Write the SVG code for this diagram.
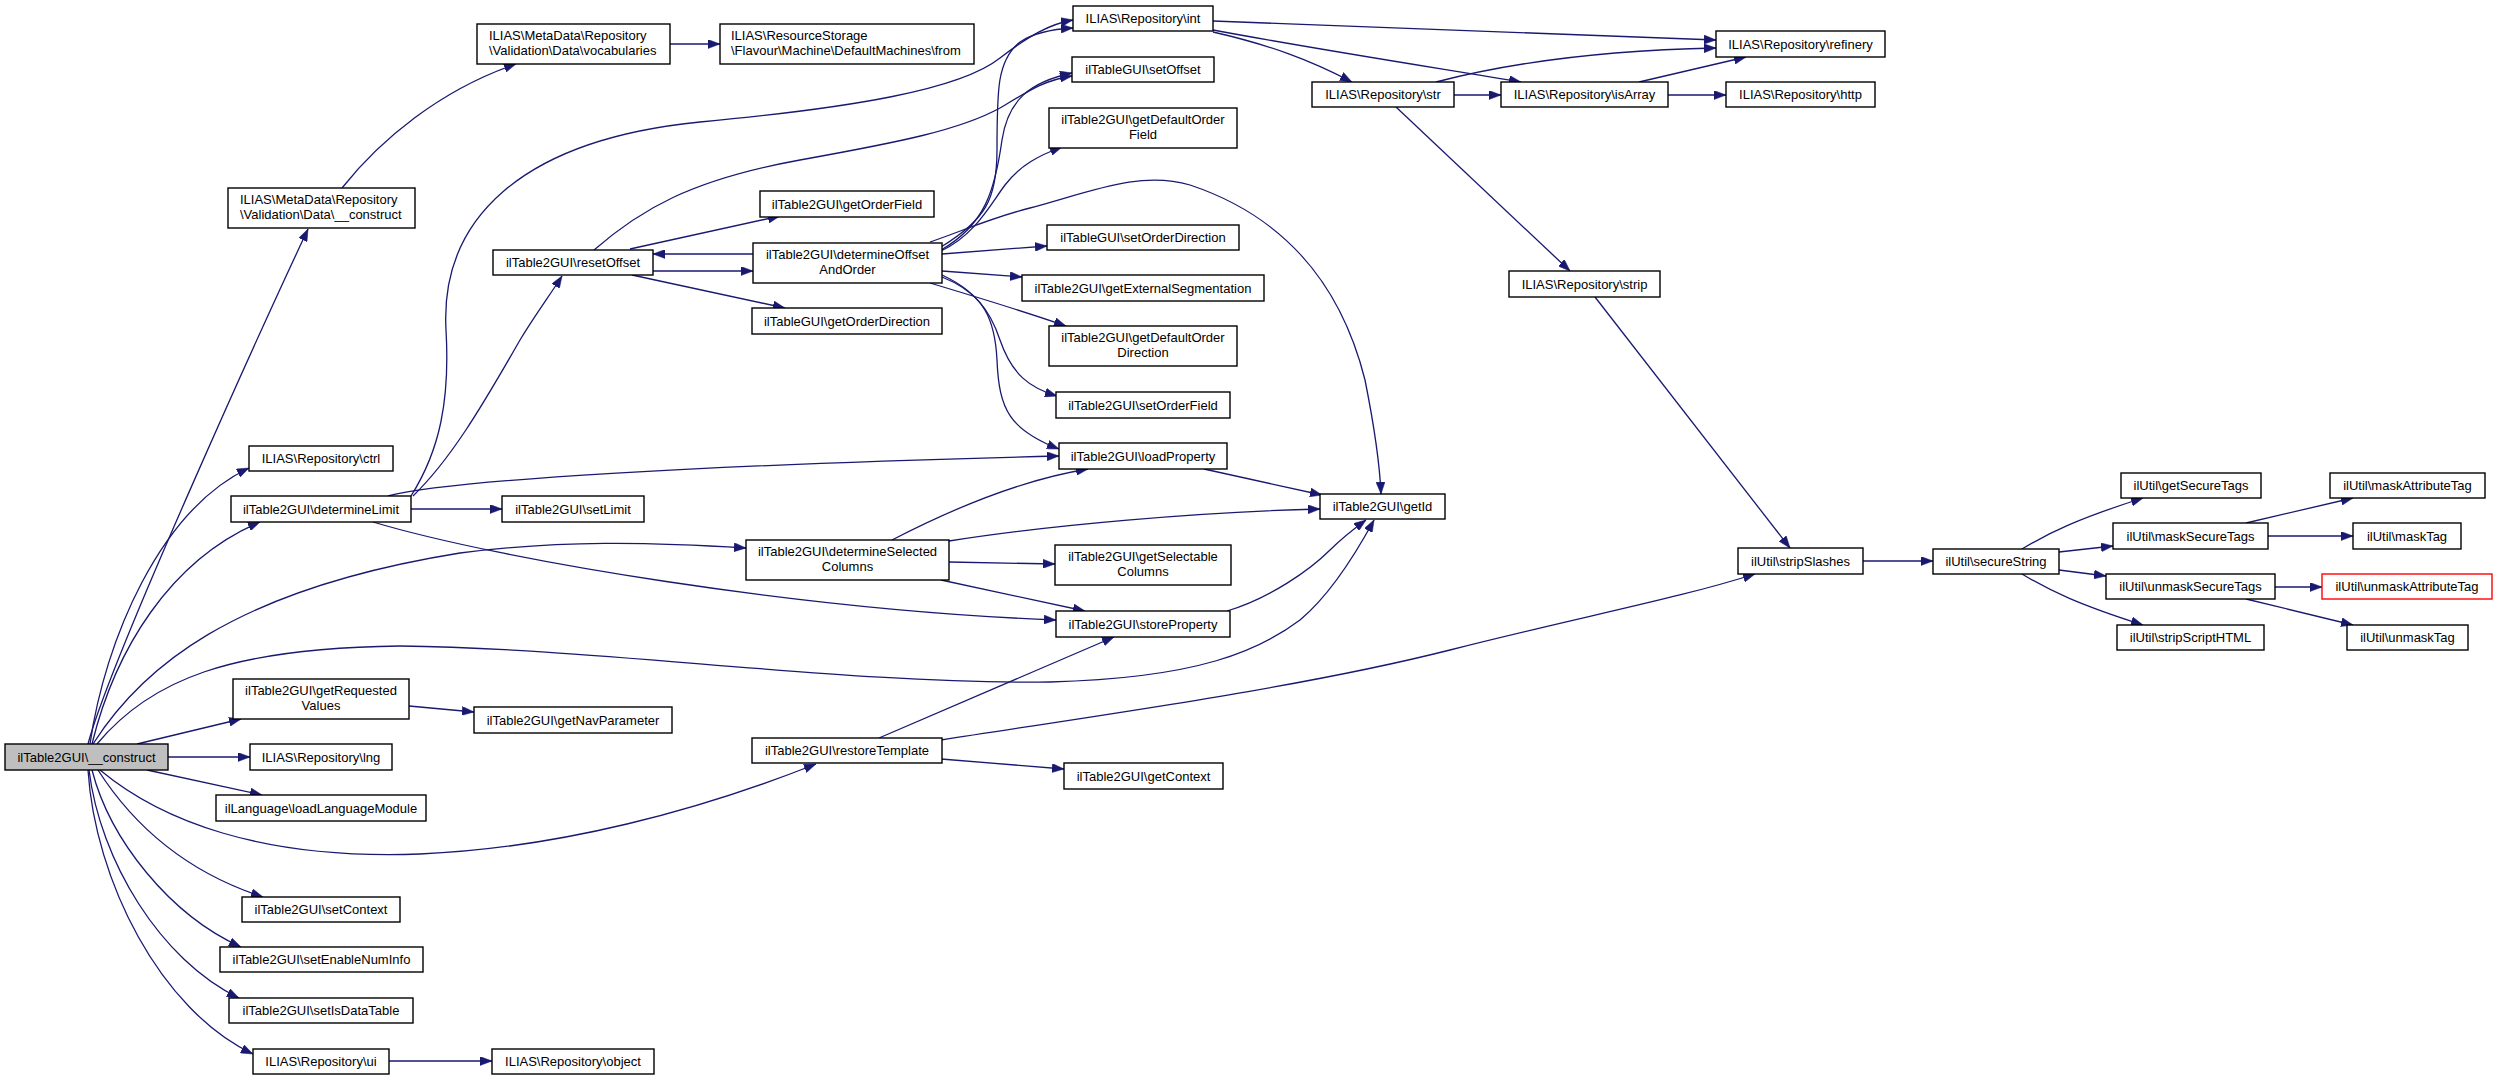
<svg xmlns="http://www.w3.org/2000/svg" width="2497" height="1080" viewBox="0 0 2497 1080">
<style>
.node rect{fill:#ffffff;stroke:#000000;stroke-width:1.4}
.node rect.root{fill:#bfbfbf}
.node rect.red{stroke:#ff0000}
.node text{font-family:"Liberation Sans",Arial,Helvetica,sans-serif;font-size:13px;fill:#000000}
.c{text-anchor:middle}
.l{text-anchor:start}
#edges path{fill:none;stroke:#191970;stroke-width:1.3;marker-end:url(#ah)}
</style>
<defs>
<marker id="ah" markerUnits="userSpaceOnUse" viewBox="0 0 12 9" markerWidth="12" markerHeight="9" refX="12" refY="4.5" orient="auto">
<path d="M0,0 L12,4.5 L0,9 z" fill="#191970" stroke="#191970" stroke-width="0.5"/>
</marker>
</defs>
<rect width="2497" height="1080" fill="#ffffff"/>
<g id="edges">
<path d="M88,744 C110,660 270,310 308,229"/>
<path d="M90,744 C105,640 160,510 249,468"/>
<path d="M92,744 C115,650 170,560 260,522"/>
<path d="M93,744 C140,670 230,590 460,553 C560,540 650,542 746,548"/>
<path d="M97,744 C150,680 230,648 400,646 C600,648 850,685 1050,682 C1200,678 1260,650 1300,620 C1330,595 1355,555 1374,520"/>
<path d="M137,744 L241,719"/>
<path d="M168,757 L250,757"/>
<path d="M147,770 L262,795"/>
<path d="M100,770 C160,820 260,860 420,854 C560,848 700,810 816,764"/>
<path d="M98,770 C130,820 180,870 263,897"/>
<path d="M92,770 C110,840 170,915 241,947"/>
<path d="M89,770 C100,860 160,960 239,998"/>
<path d="M88,770 C95,880 160,1010 253,1054"/>
<path d="M342,188 C380,140 440,90 516,64"/>
<path d="M670,44 L720,44"/>
<path d="M411,509 L502,509"/>
<path d="M373,522 C500,560 800,610 1056,620"/>
<path d="M388,496 C450,480 700,465 1059,456"/>
<path d="M411,496 C440,450 450,400 446,330 C440,220 520,140 700,122 C850,108 960,90 1000,58 C1030,35 1050,24 1073,20"/>
<path d="M413,496 C450,460 480,410 520,340 C535,315 550,295 562,276"/>
<path d="M594,250 C640,210 690,180 800,160 C900,142 960,130 1000,108 C1030,90 1045,80 1072,76"/>
<path d="M630,249 L780,216"/>
<path d="M753,254 L653,254"/>
<path d="M653,271 L753,271"/>
<path d="M632,275 L785,308"/>
<path d="M941,247 C985,220 997,200 997,150 C997,90 997,60 1020,42 C1035,32 1055,29 1073,28"/>
<path d="M941,250 C985,225 995,190 1002,140 C1008,100 1030,82 1072,73"/>
<path d="M941,251 C975,235 990,205 1005,185 C1020,165 1040,155 1062,147"/>
<path d="M930,242 C960,232 990,218 1030,208 C1090,192 1140,170 1190,185 C1280,215 1340,280 1365,380 C1375,430 1380,470 1381,494"/>
<path d="M942,254 L1047,246"/>
<path d="M942,271 L1022,277"/>
<path d="M930,283 C970,295 1020,310 1066,326"/>
<path d="M942,277 C975,290 990,310 1000,340 C1012,375 1030,388 1057,396"/>
<path d="M942,275 C985,295 995,320 997,360 C999,410 1010,430 1059,449"/>
<path d="M892,540 C950,510 1020,480 1088,469"/>
<path d="M949,541 C1050,525 1200,512 1320,509"/>
<path d="M949,562 L1055,564"/>
<path d="M941,580 L1085,611"/>
<path d="M1204,469 L1322,495"/>
<path d="M1227,611 C1270,598 1310,570 1330,550 C1345,535 1355,528 1366,520"/>
<path d="M879,738 L1114,637"/>
<path d="M941,740 C1100,715 1300,688 1450,650 C1580,617 1680,598 1755,574"/>
<path d="M941,759 L1064,769"/>
<path d="M409,706 L474,712"/>
<path d="M389,1061 L492,1061"/>
<path d="M1213,21 C1400,28 1600,36 1716,40"/>
<path d="M1213,30 C1320,50 1450,70 1521,82"/>
<path d="M1213,32 C1270,45 1310,60 1352,82"/>
<path d="M1436,82 C1520,60 1620,50 1716,48"/>
<path d="M1454,95 L1501,95"/>
<path d="M1639,82 L1746,57"/>
<path d="M1668,95 L1726,95"/>
<path d="M1396,107 L1570,271"/>
<path d="M1595,297 L1790,548"/>
<path d="M1863,561 L1933,561"/>
<path d="M2022,549 C2050,532 2080,518 2143,498"/>
<path d="M2059,552 L2113,546"/>
<path d="M2059,570 L2106,576"/>
<path d="M2022,574 C2050,591 2080,605 2143,625"/>
<path d="M2246,523 L2353,498"/>
<path d="M2268,536 L2353,536"/>
<path d="M2275,587 L2322,587"/>
<path d="M2246,599 L2353,625"/>
</g>
<g id="n-construct" class="node"><rect class="root" x="5" y="744" width="163" height="26"/><text class="c" x="86.5" y="761.5">ilTable2GUI\__construct</text></g>
<g id="n-dataConstruct" class="node"><rect x="228" y="188" width="187" height="40"/><text class="l" x="240" y="204">ILIAS\MetaData\Repository</text><text class="l" x="240" y="219">\Validation\Data\__construct</text></g>
<g id="n-vocabularies" class="node"><rect x="477" y="24" width="193" height="40"/><text class="l" x="489" y="40">ILIAS\MetaData\Repository</text><text class="l" x="489" y="55">\Validation\Data\vocabularies</text></g>
<g id="n-from" class="node"><rect x="720" y="24" width="254" height="40"/><text class="l" x="731" y="40">ILIAS\ResourceStorage</text><text class="l" x="731" y="55">\Flavour\Machine\DefaultMachines\from</text></g>
<g id="n-ctrl" class="node"><rect x="249" y="446" width="144" height="25"/><text class="c" x="321" y="463">ILIAS\Repository\ctrl</text></g>
<g id="n-determineLimit" class="node"><rect x="231" y="496" width="180" height="26"/><text class="c" x="321" y="513.5">ilTable2GUI\determineLimit</text></g>
<g id="n-setLimit" class="node"><rect x="502" y="496" width="142" height="26"/><text class="c" x="573" y="513.5">ilTable2GUI\setLimit</text></g>
<g id="n-resetOffset" class="node"><rect x="493" y="250" width="160" height="25"/><text class="c" x="573" y="267">ilTable2GUI\resetOffset</text></g>
<g id="n-getOrderField" class="node"><rect x="760" y="191" width="174" height="26"/><text class="c" x="847" y="208.5">ilTable2GUI\getOrderField</text></g>
<g id="n-determineOffsetAndOrder" class="node"><rect x="753" y="243" width="189" height="40"/><text class="c" x="847.5" y="259">ilTable2GUI\determineOffset</text><text class="c" x="847.5" y="274">AndOrder</text></g>
<g id="n-getOrderDirection" class="node"><rect x="752" y="308" width="190" height="26"/><text class="c" x="847" y="325.5">ilTableGUI\getOrderDirection</text></g>
<g id="n-int" class="node"><rect x="1073" y="6" width="140" height="25"/><text class="c" x="1143" y="23">ILIAS\Repository\int</text></g>
<g id="n-setOffset" class="node"><rect x="1072" y="57" width="142" height="25"/><text class="c" x="1143" y="74">ilTableGUI\setOffset</text></g>
<g id="n-getDefaultOrderField" class="node"><rect x="1049" y="108" width="188" height="40"/><text class="c" x="1143" y="124">ilTable2GUI\getDefaultOrder</text><text class="c" x="1143" y="139">Field</text></g>
<g id="n-setOrderDirection" class="node"><rect x="1047" y="225" width="192" height="25"/><text class="c" x="1143" y="242">ilTableGUI\setOrderDirection</text></g>
<g id="n-getExternalSegmentation" class="node"><rect x="1022" y="275" width="242" height="26"/><text class="c" x="1143" y="292.5">ilTable2GUI\getExternalSegmentation</text></g>
<g id="n-getDefaultOrderDirection" class="node"><rect x="1049" y="326" width="188" height="40"/><text class="c" x="1143" y="342">ilTable2GUI\getDefaultOrder</text><text class="c" x="1143" y="357">Direction</text></g>
<g id="n-setOrderField" class="node"><rect x="1056" y="392" width="174" height="26"/><text class="c" x="1143" y="409.5">ilTable2GUI\setOrderField</text></g>
<g id="n-loadProperty" class="node"><rect x="1059" y="443" width="168" height="26"/><text class="c" x="1143" y="460.5">ilTable2GUI\loadProperty</text></g>
<g id="n-getId" class="node"><rect x="1320" y="494" width="125" height="25"/><text class="c" x="1382.5" y="511">ilTable2GUI\getId</text></g>
<g id="n-determineSelectedColumns" class="node"><rect x="746" y="540" width="203" height="40"/><text class="c" x="847.5" y="556">ilTable2GUI\determineSelected</text><text class="c" x="847.5" y="571">Columns</text></g>
<g id="n-getSelectableColumns" class="node"><rect x="1055" y="545" width="176" height="40"/><text class="c" x="1143" y="561">ilTable2GUI\getSelectable</text><text class="c" x="1143" y="576">Columns</text></g>
<g id="n-storeProperty" class="node"><rect x="1056" y="611" width="174" height="26"/><text class="c" x="1143" y="628.5">ilTable2GUI\storeProperty</text></g>
<g id="n-restoreTemplate" class="node"><rect x="752" y="738" width="190" height="25"/><text class="c" x="847" y="755">ilTable2GUI\restoreTemplate</text></g>
<g id="n-getContext" class="node"><rect x="1064" y="763" width="159" height="26"/><text class="c" x="1143.5" y="780.5">ilTable2GUI\getContext</text></g>
<g id="n-getRequestedValues" class="node"><rect x="233" y="679" width="176" height="40"/><text class="c" x="321" y="695">ilTable2GUI\getRequested</text><text class="c" x="321" y="710">Values</text></g>
<g id="n-getNavParameter" class="node"><rect x="474" y="707" width="198" height="26"/><text class="c" x="573" y="724.5">ilTable2GUI\getNavParameter</text></g>
<g id="n-lng" class="node"><rect x="250" y="744" width="142" height="26"/><text class="c" x="321" y="761.5">ILIAS\Repository\lng</text></g>
<g id="n-loadLanguageModule" class="node"><rect x="216" y="795" width="210" height="26"/><text class="c" x="321" y="812.5">ilLanguage\loadLanguageModule</text></g>
<g id="n-setContext" class="node"><rect x="242" y="897" width="158" height="25"/><text class="c" x="321" y="914">ilTable2GUI\setContext</text></g>
<g id="n-setEnableNumInfo" class="node"><rect x="220" y="947" width="203" height="25"/><text class="c" x="321.5" y="964">ilTable2GUI\setEnableNumInfo</text></g>
<g id="n-setIsDataTable" class="node"><rect x="229" y="998" width="184" height="25"/><text class="c" x="321" y="1015">ilTable2GUI\setIsDataTable</text></g>
<g id="n-ui" class="node"><rect x="253" y="1049" width="136" height="25"/><text class="c" x="321" y="1066">ILIAS\Repository\ui</text></g>
<g id="n-object" class="node"><rect x="492" y="1049" width="162" height="25"/><text class="c" x="573" y="1066">ILIAS\Repository\object</text></g>
<g id="n-refinery" class="node"><rect x="1716" y="31" width="169" height="26"/><text class="c" x="1800.5" y="48.5">ILIAS\Repository\refinery</text></g>
<g id="n-str" class="node"><rect x="1312" y="82" width="142" height="25"/><text class="c" x="1383" y="99">ILIAS\Repository\str</text></g>
<g id="n-isArray" class="node"><rect x="1501" y="82" width="167" height="25"/><text class="c" x="1584.5" y="99">ILIAS\Repository\isArray</text></g>
<g id="n-http" class="node"><rect x="1726" y="82" width="149" height="25"/><text class="c" x="1800.5" y="99">ILIAS\Repository\http</text></g>
<g id="n-strip" class="node"><rect x="1509" y="271" width="151" height="26"/><text class="c" x="1584.5" y="288.5">ILIAS\Repository\strip</text></g>
<g id="n-stripSlashes" class="node"><rect x="1738" y="548" width="125" height="26"/><text class="c" x="1800.5" y="565.5">ilUtil\stripSlashes</text></g>
<g id="n-secureString" class="node"><rect x="1933" y="549" width="126" height="25"/><text class="c" x="1996" y="566">ilUtil\secureString</text></g>
<g id="n-getSecureTags" class="node"><rect x="2121" y="473" width="140" height="25"/><text class="c" x="2191" y="490">ilUtil\getSecureTags</text></g>
<g id="n-maskSecureTags" class="node"><rect x="2113" y="523" width="155" height="26"/><text class="c" x="2190.5" y="540.5">ilUtil\maskSecureTags</text></g>
<g id="n-unmaskSecureTags" class="node"><rect x="2106" y="574" width="169" height="25"/><text class="c" x="2190.5" y="591">ilUtil\unmaskSecureTags</text></g>
<g id="n-stripScriptHTML" class="node"><rect x="2117" y="625" width="147" height="25"/><text class="c" x="2190.5" y="642">ilUtil\stripScriptHTML</text></g>
<g id="n-maskAttributeTag" class="node"><rect x="2330" y="473" width="155" height="25"/><text class="c" x="2407.5" y="490">ilUtil\maskAttributeTag</text></g>
<g id="n-maskTag" class="node"><rect x="2353" y="523" width="108" height="26"/><text class="c" x="2407" y="540.5">ilUtil\maskTag</text></g>
<g id="n-unmaskAttributeTag" class="node"><rect class="red" x="2322" y="574" width="170" height="25"/><text class="c" x="2407" y="591">ilUtil\unmaskAttributeTag</text></g>
<g id="n-unmaskTag" class="node"><rect x="2347" y="625" width="121" height="25"/><text class="c" x="2407.5" y="642">ilUtil\unmaskTag</text></g>
</svg>
